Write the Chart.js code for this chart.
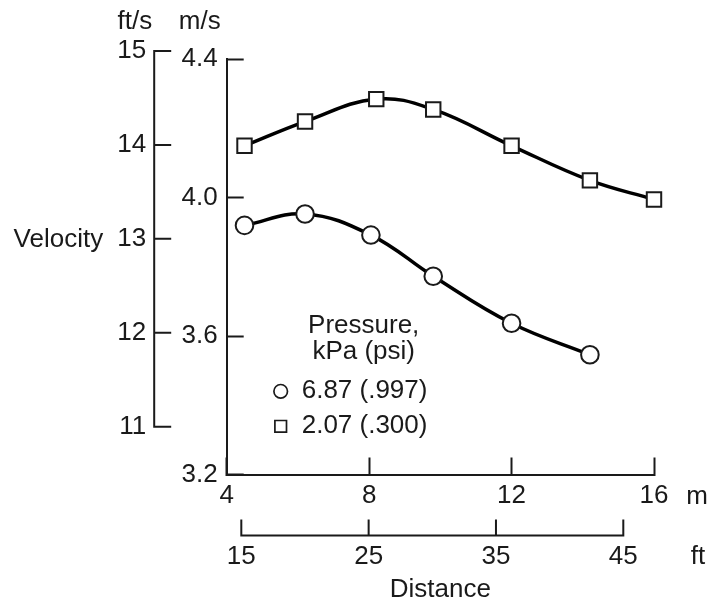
<!DOCTYPE html>
<html>
<head>
<meta charset="utf-8">
<script src="https://cdn.jsdelivr.net/npm/chart.js@4"></script>
<style>
  html, body { margin: 0; padding: 0; background: #fff; }
  #wrap { width: 712px; height: 605px; position: relative; }
</style>
</head>
<body>
<div id="wrap"><canvas id="velocityChart"></canvas></div>
<script>
// distances in metres, velocities in m/s
const lowPressureDistance = [4.5, 6.2, 8.2, 9.8, 12.0, 14.2, 16.0];
const lowPressureVelocity = [4.15, 4.22, 4.285, 4.255, 4.15, 4.05, 3.995];
const highPressureDistance = [4.5, 6.2, 8.05, 9.8, 12.0, 14.2];
const highPressureVelocity = [3.92, 3.953, 3.892, 3.773, 3.637, 3.546];

const pressureLabels = ["6.87 (.997)", "2.07 (.300)"];
const legendTitle = ["Pressure,", "kPa (psi)"];

const metreTicks = [4, 8, 12, 16];
const footTicks = [15, 25, 35, 45];
const msTicks = [3.2, 3.6, 4.0, 4.4];
const ftsTicks = [11, 12, 13, 14, 15];

const INK = "#1a1a1a";
const FONT = "'Liberation Sans', Arial, Helvetica, sans-serif";
const FONT_SIZE = 26;

function toPoints(xs, ys) {
  return xs.map((x, i) => ({ x, y: ys[i] }));
}

function fixedTicks(values) {
  return (scale) => {
    scale.ticks = values.map((value) => ({ value }));
  };
}

// ft/s and ft scales are only a second labelling of the same plot,
// so they are drawn here from their (hidden) scales
const secondaryAxes = {
  id: "secondaryAxes",
  afterDraw(chart) {
    const { ctx, chartArea, scales } = chart;
    const yFt = scales.y2;
    const xFt = scales.x2;
    ctx.save();
    ctx.strokeStyle = INK;
    ctx.fillStyle = INK;
    ctx.lineWidth = 2;
    ctx.font = `${FONT_SIZE}px ${FONT}`;

    // ft/s axis
    const axX = chartArea.left - 72.5;
    const top = yFt.getPixelForValue(ftsTicks[ftsTicks.length - 1]);
    const bottom = yFt.getPixelForValue(ftsTicks[0]);
    ctx.beginPath();
    ctx.moveTo(axX, top);
    ctx.lineTo(axX, bottom);
    for (const v of ftsTicks) {
      const py = yFt.getPixelForValue(v);
      ctx.moveTo(axX - 1, py);
      ctx.lineTo(axX + 17, py);
    }
    ctx.stroke();
    ctx.textAlign = "right";
    ctx.textBaseline = "middle";
    for (const v of ftsTicks) {
      ctx.fillText(String(v), axX - 8, yFt.getPixelForValue(v));
    }
    ctx.fillText("Velocity", axX - 51, yFt.getPixelForValue(13) + 1);

    // unit labels above the vertical axes
    ctx.fillText("ft/s", axX - 2, 22);
    ctx.fillText("m/s", chartArea.left - 6, 22);

    // ft axis
    const axY = chartArea.bottom + 61;
    const left = xFt.getPixelForValue(footTicks[0]);
    const right = xFt.getPixelForValue(footTicks[footTicks.length - 1]);
    ctx.beginPath();
    ctx.moveTo(left, axY);
    ctx.lineTo(right, axY);
    for (const v of footTicks) {
      const px = xFt.getPixelForValue(v);
      ctx.moveTo(px, axY + 1);
      ctx.lineTo(px, axY - 16);
    }
    ctx.stroke();
    ctx.textAlign = "center";
    for (const v of footTicks) {
      ctx.fillText(String(v), xFt.getPixelForValue(v), axY + 21);
    }
    ctx.fillText("ft", chartArea.right + 44, axY + 21);
    ctx.fillText("m", chartArea.right + 43, chartArea.bottom + 22);
    ctx.fillText("Distance", (chartArea.left + chartArea.right) / 2, axY + 54);
    ctx.restore();
  },
};

const pressureLegend = {
  id: "pressureLegend",
  afterDraw(chart) {
    const { ctx, chartArea } = chart;
    const cx = chartArea.left + 137;
    const ty = chartArea.top + 267;
    ctx.save();
    ctx.fillStyle = INK;
    ctx.font = `${FONT_SIZE}px ${FONT}`;
    ctx.textAlign = "center";
    ctx.textBaseline = "middle";
    legendTitle.forEach((line, i) => ctx.fillText(line, cx, ty + i * 26));

    const mx = chartArea.left + 54;
    const textX = chartArea.left + 75;
    chart.data.datasets.forEach((ds, i) => {
      const my = ty + 65 + i * 35;
      ctx.beginPath();
      if (ds.pointStyle === "circle") {
        ctx.arc(mx, my, 6.8, 0, Math.PI * 2);
      } else {
        ctx.rect(mx - 5.8, my - 5.8, 11.6, 11.6);
      }
      ctx.fillStyle = "#fff";
      ctx.fill();
      ctx.lineWidth = 1.7;
      ctx.strokeStyle = INK;
      ctx.stroke();
      ctx.fillStyle = INK;
      ctx.textAlign = "left";
      ctx.fillText(ds.label, textX, my);
    });
    ctx.restore();
  },
};

function axisStyle() {
  return {
    grid: {
      drawOnChartArea: false,
      tickLength: -17,
      tickWidth: 2,
      tickColor: INK,
    },
    border: { display: true, width: 2, color: INK },
  };
}

const ctx = document.getElementById("velocityChart").getContext("2d");
new Chart(ctx, {
  type: "line",
  data: {
    datasets: [
      {
        label: pressureLabels[0],
        data: toPoints(highPressureDistance, highPressureVelocity),
        borderColor: "#000",
        borderWidth: 3.5,
        tension: 0.4,
        pointStyle: "circle",
        pointRadius: 8.8,
        pointBorderWidth: 2,
        pointBorderColor: INK,
        pointBackgroundColor: "#fff",
        clip: false,
      },
      {
        label: pressureLabels[1],
        data: toPoints(lowPressureDistance, lowPressureVelocity),
        borderColor: "#000",
        borderWidth: 3.5,
        tension: 0.4,
        pointStyle: "rect",
        pointRadius: 10.2,
        pointBorderWidth: 2,
        pointBorderColor: INK,
        pointBackgroundColor: "#fff",
        clip: false,
      },
    ],
  },
  options: {
    responsive: true,
    maintainAspectRatio: false,
    animation: false,
    layout: {
      padding: { left: 176.7, right: 58, top: 59.3, bottom: 90.5 },
    },
    plugins: {
      legend: { display: false },
      tooltip: { enabled: false },
    },
    scales: {
      x: {
        type: "linear",
        position: "bottom",
        min: 4,
        max: 16,
        afterBuildTicks: fixedTicks(metreTicks),
        afterFit(scale) {
          scale.height = 40;
        },
        ticks: {
          padding: 23,
          color: INK,
          font: { family: FONT, size: FONT_SIZE },
          maxRotation: 0,
          autoSkip: false,
          callback: (v) => String(v),
        },
        ...axisStyle(),
      },
      y: {
        type: "linear",
        position: "left",
        min: 3.2,
        max: 4.4,
        afterBuildTicks: fixedTicks(msTicks),
        afterFit(scale) {
          scale.width = 50;
        },
        ticks: {
          padding: 26,
          color: INK,
          font: { family: FONT, size: FONT_SIZE },
          autoSkip: false,
          callback: (v) => Number(v).toFixed(1),
        },
        ...axisStyle(),
      },
      // ft/s: 15 sits 8px above the 4.4 m/s tick, 11 sits 48px above 3.2
      y2: {
        type: "linear",
        position: "left",
        display: false,
        min: 10.491,
        max: 14.912,
      },
      // ft: 15 ft sits just right of 4 m, 45 ft well short of 16 m
      x2: {
        type: "linear",
        position: "bottom",
        display: false,
        min: 13.853,
        max: 47.411,
      },
    },
  },
  plugins: [secondaryAxes, pressureLegend],
});
</script>
</body>
</html>
